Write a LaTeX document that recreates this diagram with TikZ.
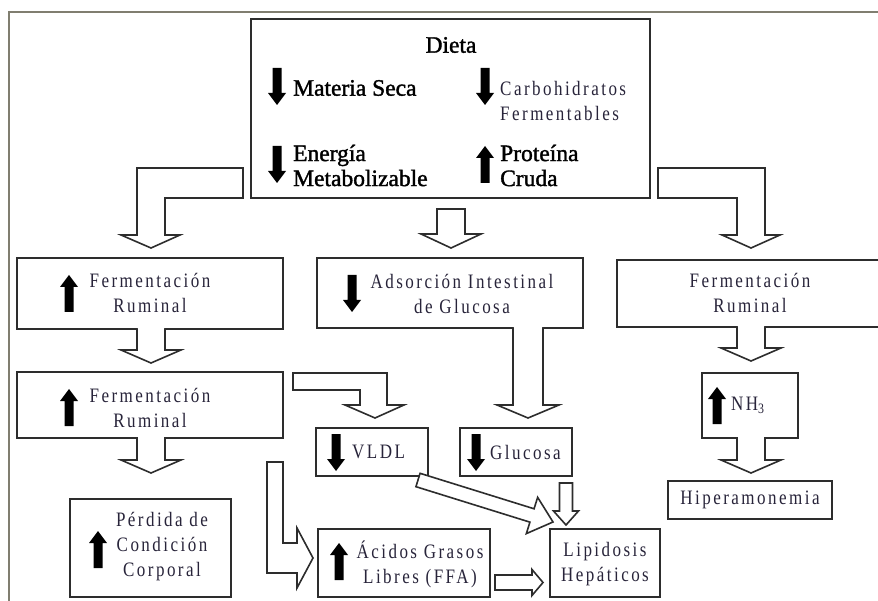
\documentclass[tikz,border=0pt]{standalone}
\usepackage{fontspec}
\usetikzlibrary{calc}
\setmainfont{Liberation Serif}
\newfontfamily\spf[LetterSpace=12,FakeStretch=0.83]{Liberation Serif}
\newfontfamily\hvf[FakeBold=1.5]{Liberation Serif}
\definecolor{txt}{RGB}{40,36,58}
\definecolor{ln}{RGB}{45,45,45}
\definecolor{fr}{RGB}{128,126,112}
\tikzset{
  box/.style={draw=ln, line width=1.6pt, fill=white, inner sep=0pt},
  barrow/.style={draw=ln, line width=1.6pt, fill=white},
  sp/.style={font=\spf\fontsize{20.5}{25}\selectfont, text=txt, align=center, inner sep=0pt},
  spl/.style={sp, align=left, anchor=west},
  hv/.style={font=\hvf\fontsize{23.5}{25}\selectfont, align=left, inner sep=0pt, anchor=west},
}
% indicator arrows: x centre, top y (y grows downward)
\newcommand\upind[2]{\fill[black] (#1-4.5,#2+37) -- (#1-4.5,#2+12) -- (#1-9,#2+12) -- (#1,#2) -- (#1+9,#2+12) -- (#1+4.5,#2+12) -- (#1+4.5,#2+37) -- cycle;}
\newcommand\dnind[2]{\fill[black] (#1-4.5,#2) -- (#1-4.5,#2+25) -- (#1-9,#2+25) -- (#1,#2+37) -- (#1+9,#2+25) -- (#1+4.5,#2+25) -- (#1+4.5,#2) -- cycle;}
% block arrows: x centre, top, tip, shaft half width, head half width, head length
\newcommand\vclosedarrow[6]{\draw[barrow] (#1-#4,#2) -- (#1+#4,#2) -- (#1+#4,#3-#6) -- (#1+#5,#3-#6) -- (#1,#3) -- (#1-#5,#3-#6) -- (#1-#4,#3-#6) -- cycle;}
\newcommand\vopenarrow[6]{\fill[white] (#1-#4+1.2,#2-3) rectangle (#1+#4-1.2,#2+3);
  \draw[barrow] (#1-#4,#2) -- (#1-#4,#3-#6) -- (#1-#5,#3-#6) -- (#1,#3) -- (#1+#5,#3-#6) -- (#1+#4,#3-#6) -- (#1+#4,#2);}
% straight arrow between two named coordinates: from, to, shaft half, head half, head length
\newcommand\sarrow[5]{\draw[barrow]
  ($(#1)!#3pt!90:(#2)$) -- ($($(#2)!#5pt!(#1)$)!#3pt!90:(#2)$) -- ($($(#2)!#5pt!(#1)$)!#4pt!90:(#2)$) -- (#2)
  -- ($($(#2)!#5pt!(#1)$)!#4pt!-90:(#2)$) -- ($($(#2)!#5pt!(#1)$)!#3pt!-90:(#2)$) -- ($(#1)!#3pt!-90:(#2)$) -- cycle;}
\begin{document}
\begin{tikzpicture}[x=1pt,y=-1pt]
\useasboundingbox (0,0) rectangle (878,601);
\draw[fr, line width=2pt] (8,12) -- (880,12);
\draw[fr, line width=2pt] (9,11) -- (9,603);

% ---------- boxes ----------
\node[box, minimum width=399pt, minimum height=179pt] (dieta) at (450.5,108.5) {};
\node[box, minimum width=266pt, minimum height=71pt] (ferm1) at (150,293.5) {};
\node[box, minimum width=266pt, minimum height=70pt] (adsor) at (450,293) {};
\node[box, minimum width=273pt, minimum height=67pt] (ferm2) at (753.5,293.5) {};
\node[box, minimum width=266pt, minimum height=66pt] (ferm3) at (150,405) {};
\node[box, minimum width=96pt, minimum height=65pt] (nh3) at (750,405.5) {};
\node[box, minimum width=112pt, minimum height=48pt] (vldl) at (372,452) {};
\node[box, minimum width=112pt, minimum height=48pt] (gluc) at (516,452) {};
\node[box, minimum width=161pt, minimum height=98pt] (perd) at (150.5,548) {};
\node[box, minimum width=172pt, minimum height=68pt] (agl) at (404,563) {};
\node[box, minimum width=110pt, minimum height=68pt] (lip) at (605,563) {};
\node[box, minimum width=164pt, minimum height=38pt] (hiper) at (750,500) {};

% ---------- block arrows ----------
\draw[barrow] (243,168) -- (137,168) -- (137,235) -- (121,235) -- (151,248) -- (180,235) -- (165,235) -- (165,198) -- (243,198) -- cycle;
\draw[barrow] (658,168) -- (765,168) -- (765,235) -- (780,235) -- (751,248) -- (722,235) -- (737,235) -- (737,198) -- (658,198) -- cycle;
\vclosedarrow{451}{209}{248}{14}{30}{14}
\vopenarrow{151}{329}{363}{14}{30}{13}
\vopenarrow{151}{438}{473}{14}{30}{13}
\vopenarrow{751}{327}{361}{14}{30}{13}
\vopenarrow{751}{438}{473}{14}{30}{13}
\vopenarrow{528}{328}{418}{15}{31}{13}
\vclosedarrow{566}{483}{525}{6.5}{12.5}{14}
\draw[barrow] (293,373) -- (387,373) -- (387,405) -- (404,405) -- (375,418) -- (345,405) -- (360,405) -- (360,390) -- (293,390) -- cycle;
\draw[barrow] (267,462) -- (283,462) -- (283,543) -- (297,543) -- (297,528) -- (313,558) -- (297,588) -- (297,573) -- (267,573) -- cycle;
\coordinate (d1) at (418,480);
\coordinate (d2) at (553,522);
\sarrow{d1}{d2}{7}{19}{22}
\coordinate (h1) at (495,582.5);
\coordinate (h2) at (543,582.5);
\sarrow{h1}{h2}{7.5}{13}{11}

% ---------- texts ----------
\node[font=\hvf\fontsize{23.5}{25}\selectfont, inner sep=0pt] (tdieta) at (451,45) {Dieta};
\dnind{277}{68}
\node[hv] (tms) at (293,88) {Materia Seca};
\dnind{485}{68}
\node[spl] (tcarb) at (500,100.5) {Carbohidratos\\Fermentables};
\dnind{277}{146}
\node[hv] (tener) at (293,165.5) {Energía\\Metabolizable};
\upind{485}{146}
\node[hv] (tprot) at (500,165.5) {Proteína\\Cruda};

\upind{69}{275}
\node[sp] (tferm1) at (150,292.5) {Fermentación\\Ruminal};
\dnind{352}{275}
\node[sp] (tadsor) at (462,293.5) {Adsorción Intestinal\\de Glucosa};
\node[sp] (tferm2) at (750,292.5) {Fermentación\\Ruminal};
\upind{69}{389}
\node[sp] (tferm3) at (150,407.5) {Fermentación\\Ruminal};
\upind{717}{387}
\node[spl] (tnh3) at (731,405) {NH\textsubscript{3}};
\dnind{336}{434}
\node[spl] (tvldl) at (352,452) {VLDL};
\dnind{476}{434}
\node[spl] (tgluc) at (490,452) {Glucosa};
\upind{98}{531}
\node[sp] (tperd) at (162,547) {Pérdida de\\Condición\\Corporal};
\upind{339}{543}
\node[sp] (tagl) at (420,564.5) {Ácidos Grasos\\Libres (FFA)};
\node[sp] (tlip) at (605,564) {Lipidosis\\Hepáticos};
\node[sp] (thiper) at (750,500) {Hiperamonemia};
\end{tikzpicture}
\end{document}
